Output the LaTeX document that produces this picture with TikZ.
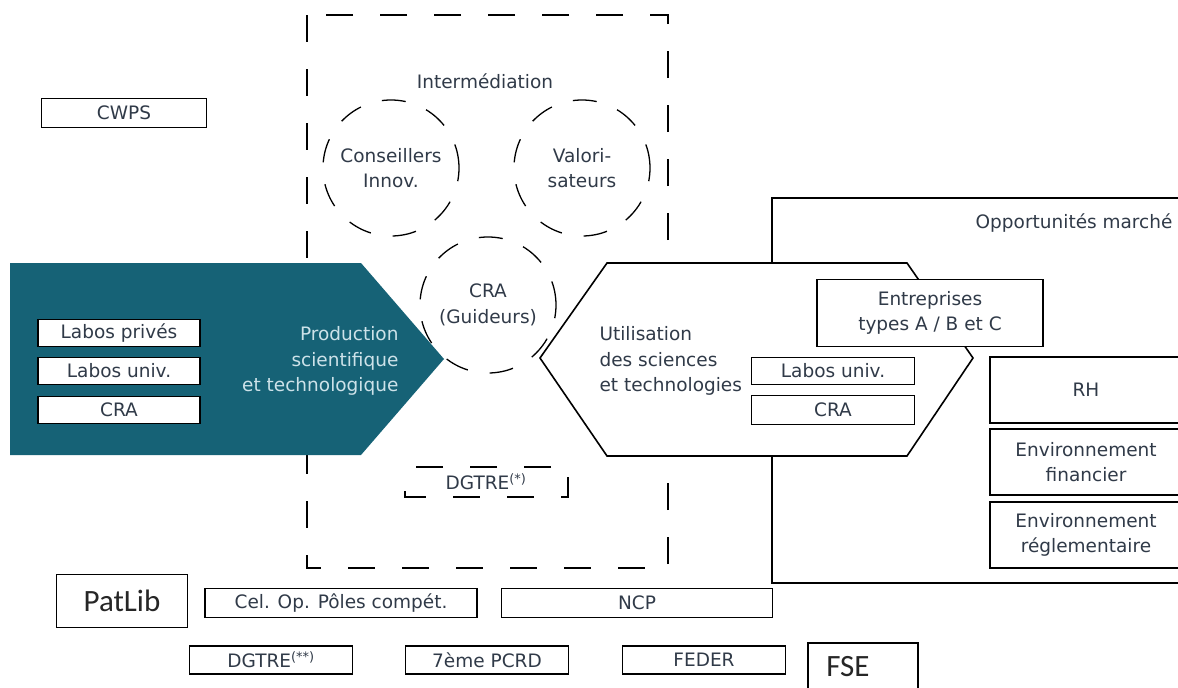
\documentclass[tikz,border=0pt]{standalone}
\usepackage{fontspec}
\setmainfont{DejaVu Sans}
\newfontfamily\calibfont{Carlito}
\usepackage{tikz}

\definecolor{tealbg}{RGB}{22,98,118}
\definecolor{paletxt}{RGB}{205,226,233}
\definecolor{ink}{RGB}{48,58,72}

\begin{document}
\begin{tikzpicture}[x=1pt, y=-1pt,
   txt/.style={font=\fontsize{18.5}{25.5}\selectfont, text=ink},
   box/.style={draw=black, line width=1.6, fill=white, txt, inner sep=0pt, minimum height=27},
   bigbox/.style={box, minimum width=192, minimum height=66, align=center},
   dashbox/.style={line width=1.5, dash pattern=on 27 off 27},
   ring/.style={draw, line width=1.3, dash pattern=on 24 off 22, circle, minimum size=136, inner sep=0pt, txt, align=center}]
   \useasboundingbox (0,0) rectangle (1178,688);
   % Intermediation frame
   \draw[dashbox] (307,15) rectangle (668,568);
   \node[txt] (inter) at (485,81) {Intermédiation};
   % Production (teal arrow)
   \fill[tealbg] (10,263) -- (361,263) -- (444,359) -- (361,455) -- (10,455) -- cycle;
   \foreach \y/\name/\lbl in {333/lpriv/Labos privés, 371/luniv/Labos univ., 410/lcra/CRA}
      \node[box, minimum width=162] (\name) at (119,\y) {\lbl};
   \node[txt, text=paletxt, align=right, anchor=east] (prod) at (402,361)
      {Production\\scientifique\\et technologique};
   % Circles
   \node[ring] (conseil) at (391,168) {Conseillers\\Innov.};
   \node[ring] (valor) at (582,168) {Valori-\\sateurs};
   \node[ring] (guide) at (488,305) {CRA\\(Guideurs)};
   % Opportunites marche
   \draw[line width=1.6] (1190,198) -- (772,198) -- (772,583) -- (1190,583);
   \node[txt, anchor=east] (opp) at (1176,223) {Opportunités marché};
   % Utilisation (white hexagon)
   \draw[line width=1.6, fill=white] (540,358) -- (607,263) -- (907,263) -- (973,358)
      -- (907,456) -- (607,456) -- cycle;
   \node[txt, align=left, anchor=west] (util) at (596,361)
      {Utilisation\\des sciences\\et technologies};
   \node[box, minimum width=163] (runiv) at (833,371) {Labos univ.};
   \node[box, minimum width=163, minimum height=29] (rcra) at (833,410) {CRA};
   \node[box, minimum width=226, minimum height=67, align=center] (entr) at (930,313)
      {Entreprises\\types A / B et C};
   % Environnement
   \node[bigbox] (rh) at (1086,390) {RH};
   \node[bigbox] (envf) at (1086,462) {Environnement\\financier};
   \node[bigbox] (envr) at (1086,535) {Environnement\\réglementaire};
   % DGTRE (*)
   \draw[dashbox, dash phase=30] (405,467) rectangle (568,497);
   \node[txt] (dgtrea) at (486,482) {DGTRE\textsuperscript{(*)}};
   % CWPS
   \node[box, minimum width=165, minimum height=29] (cwps) at (124,113) {CWPS};
   % Bottom rows
   \node[box, minimum width=131, minimum height=53, font=\calibfont\fontsize{31}{32}\selectfont, text=black!85] (patlib) at (122,601) {PatLib};
   \node[box, minimum width=272, minimum height=29] (celop) at (341,603) {Cel. Op. Pôles compét.};
   \node[box, minimum width=271, minimum height=29] (ncp) at (637,603) {NCP};
   \foreach \x/\name/\lbl in {271/dgtreb/DGTRE\textsuperscript{(**)}, 487/pcrd/7ème PCRD, 704/feder/FEDER}
      \node[box, minimum width=163, minimum height=28] (\name) at (\x,660) {\lbl};
   \node[box, minimum width=110, minimum height=62, anchor=north west] (fse) at (807,642) {};
   \node[font=\calibfont\fontsize{31}{32}\selectfont, text=black!85] (fsetxt) at (848,667) {FSE};
\end{tikzpicture}
\end{document}
